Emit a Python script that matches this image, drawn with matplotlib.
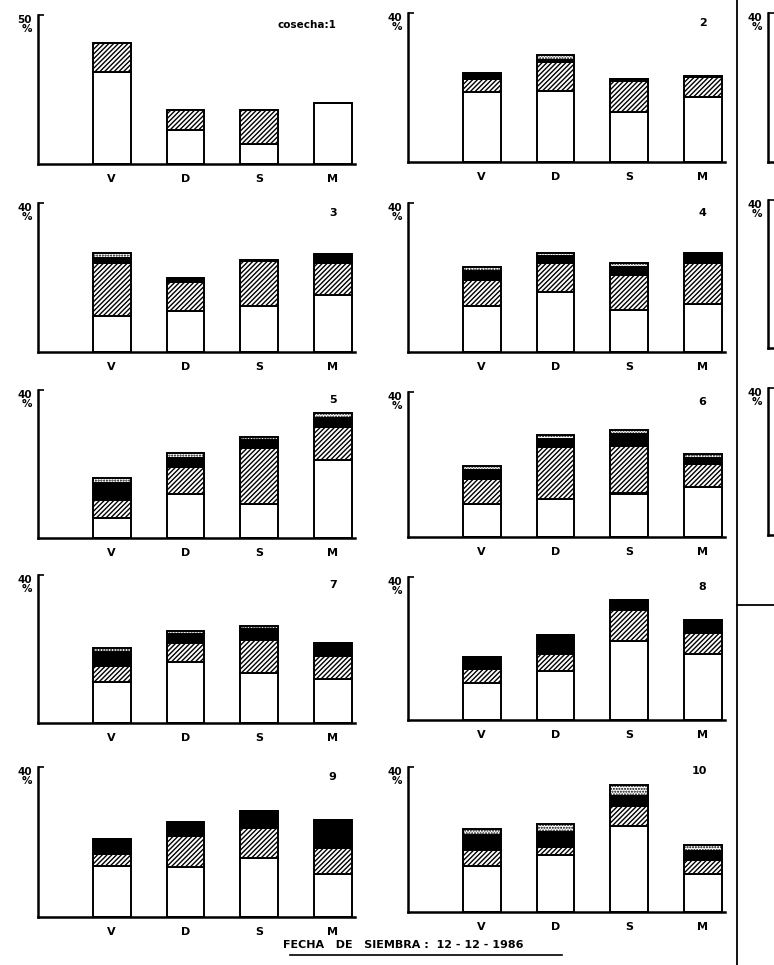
import matplotlib
matplotlib.use("Agg")
import matplotlib.pyplot as plt
from matplotlib.lines import Line2D

plt.rcParams["hatch.linewidth"] = 1.0
plt.rcParams["font.family"] = ["DejaVu Sans"]

categories = ["V", "D", "S", "M"]
panel_labels = ["cosecha:1", "2", "3", "4", "5", "6", "7", "8", "9", "10"]
y_max = [50, 40, 40, 40, 40, 40, 40, 40, 40, 40]

# % por categoria, apilado: blanco (base), rayado, negro, banda superior
white = [
    [31.0, 11.4, 6.7, 20.4],
    [18.7, 19.1, 13.3, 17.5],
    [9.6, 10.9, 12.3, 15.4],
    [12.3, 16.2, 11.2, 12.9],
    [5.3, 11.8, 9.3, 21.2],
    [9.0, 10.6, 12.0, 13.8],
    [11.2, 16.6, 13.6, 12.0],
    [10.4, 13.8, 22.1, 18.6],
    [13.6, 13.3, 15.7, 11.6],
    [12.7, 15.8, 23.6, 10.6],
]
hatched = [
    [9.7, 6.7, 11.4, 0.0],
    [3.7, 7.8, 8.5, 5.4],
    [14.2, 8.0, 12.0, 8.4],
    [7.0, 7.8, 9.5, 11.1],
    [5.1, 7.4, 14.9, 8.9],
    [7.1, 14.1, 13.0, 6.4],
    [4.2, 5.0, 8.9, 6.0],
    [4.0, 4.6, 8.8, 5.8],
    [3.3, 8.3, 8.0, 6.9],
    [4.3, 2.1, 5.6, 3.7],
]
black = [
    [0.0, 0.0, 0.0, 0.0],
    [1.4, 0.6, 0.5, 0.3],
    [1.5, 0.9, 0.4, 2.5],
    [2.4, 1.7, 2.1, 2.5],
    [4.5, 2.5, 2.2, 2.4],
    [2.4, 2.4, 3.4, 1.6],
    [3.8, 2.4, 2.8, 3.6],
    [3.1, 5.3, 2.8, 3.7],
    [3.8, 3.7, 4.6, 7.5],
    [4.3, 4.2, 2.9, 2.5],
]
top_band = [
    [0.0, 0.0, 0.0, 0.0],
    [0.0, 1.2, 0.0, 0.0],
    [1.2, 0.0, 0.0, 0.0],
    [1.2, 0.8, 1.0, 0.0],
    [1.2, 1.2, 1.0, 1.2],
    [1.1, 1.0, 1.2, 1.0],
    [1.0, 1.0, 1.0, 0.0],
    [0.0, 0.0, 0.0, 0.0],
    [0.0, 0.0, 0.0, 0.0],
    [1.5, 2.1, 2.8, 1.8],
]

W, H = 774, 965
# left, top, bottom of each panel in pixels
boxes = [
    (38, 15, 164), (408, 13, 162),
    (38, 203, 352), (408, 203, 352),
    (38, 390, 538), (408, 392, 537),
    (38, 575, 723), (408, 577, 720),
    (38, 767, 917), (408, 767, 912),
]
AX_W = 317

fig = plt.figure(figsize=(W / 100, H / 100), dpi=100)
fig.patch.set_facecolor("white")


def frame(ax, ymax, ylab):
    ax.set_xlim(-1.0, 3.3)
    ax.set_ylim(0, ymax)
    for s in ["top", "right"]:
        ax.spines[s].set_visible(False)
    ax.spines["left"].set_linewidth(1.8)
    ax.spines["bottom"].set_linewidth(1.8)
    ax.set_yticks([ymax])
    ax.tick_params(axis="y", direction="in", length=4, width=1.2, labelleft=False)
    ax.text(-0.02, 1.0, ylab, transform=ax.transAxes, ha="right", va="top",
            fontsize=7.5, fontweight="bold", linespacing=0.85)


for i, (left, top, bottom) in enumerate(boxes):
    ax = fig.add_axes([left / W, 1 - bottom / H, AX_W / W, (bottom - top) / H])
    frame(ax, y_max[i], f"{y_max[i]}\n%")
    x = range(len(categories))
    kw = dict(width=0.51, edgecolor="black", linewidth=1.4)
    b1 = white[i]
    b2 = [a + b for a, b in zip(b1, hatched[i])]
    b3 = [a + b for a, b in zip(b2, black[i])]
    ax.bar(x, white[i], color="white", **kw)
    ax.bar(x, hatched[i], bottom=b1, color="white", hatch="///////", **kw)
    ax.bar(x, black[i], bottom=b2, color="black", **kw)
    ax.bar(x, top_band[i], bottom=b3, color="white", hatch="......", **kw)
    ax.set_xticks(list(x))
    ax.set_xticklabels(categories, fontsize=8, fontweight="bold")
    ax.tick_params(axis="x", length=0, pad=7)
    ty = 0.97 if i == 9 else 0.93
    ax.text(3.05, ty, panel_labels[i], transform=ax.get_xaxis_transform(),
            ha="right", va="center", fontsize=8 if i else 7.5, fontweight="bold")

# partial third column, cut by the page edge
for top, bottom in [(13, 162), (200, 348), (388, 535)]:
    ax = fig.add_axes([768 / W, 1 - bottom / H, AX_W / W, (bottom - top) / H])
    frame(ax, 40, "40\n%")
    ax.set_xticks([])

# page rules
fig.add_artist(Line2D([737 / W, 737 / W], [0, 1], color="black", lw=1.3))
fig.add_artist(Line2D([737 / W, 1], [1 - 605 / H, 1 - 605 / H], color="black", lw=1.3))

fig.text(403 / W, 1 - 945 / H, "FECHA   DE   SIEMBRA :  12 - 12 - 1986",
         ha="center", va="center", fontsize=8, fontweight="bold")
fig.add_artist(Line2D([290 / W, 562 / W], [1 - 955 / H, 1 - 955 / H], color="black", lw=1.2))

fig.savefig("out.png", dpi=100, facecolor="white")
